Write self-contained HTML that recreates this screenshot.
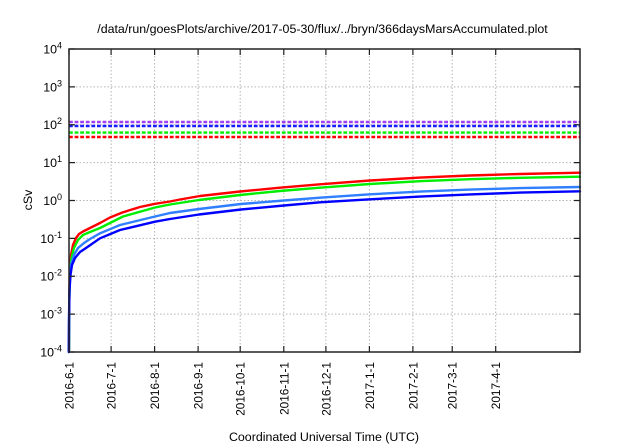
<!DOCTYPE html>
<html><head><meta charset="utf-8"><style>
html,body{margin:0;padding:0;background:#fff;}
svg{display:block;}
text{font-family:"Liberation Sans",Arial,sans-serif;fill:#000;}
</style></head><body>
<svg width="640" height="448" viewBox="0 0 640 448" xmlns="http://www.w3.org/2000/svg">
<rect width="640" height="448" fill="#fff"/>
<!-- title -->
<text x="322.5" y="33" font-size="12.4" text-anchor="middle">/data/run/goesPlots/archive/2017-05-30/flux/../bryn/366daysMarsAccumulated.plot</text>
<!-- grid -->
<g stroke="#b4b4b4" stroke-width="1" stroke-dasharray="1.5,2" fill="none">
<line x1="69" y1="86.9" x2="580" y2="86.9"/>
<line x1="69" y1="124.75" x2="580" y2="124.75"/>
<line x1="69" y1="162.6" x2="580" y2="162.6"/>
<line x1="69" y1="200.5" x2="580" y2="200.5"/>
<line x1="69" y1="238.4" x2="580" y2="238.4"/>
<line x1="69" y1="276.25" x2="580" y2="276.25"/>
<line x1="69" y1="314.1" x2="580" y2="314.1"/>
<line x1="111.1" y1="49" x2="111.1" y2="352"/>
<line x1="154.6" y1="49" x2="154.6" y2="352"/>
<line x1="198.1" y1="49" x2="198.1" y2="352"/>
<line x1="240.2" y1="49" x2="240.2" y2="352"/>
<line x1="283.8" y1="49" x2="283.8" y2="352"/>
<line x1="325.9" y1="49" x2="325.9" y2="352"/>
<line x1="369.4" y1="49" x2="369.4" y2="352"/>
<line x1="412.9" y1="49" x2="412.9" y2="352"/>
<line x1="452.2" y1="49" x2="452.2" y2="352"/>
<line x1="495.7" y1="49" x2="495.7" y2="352"/>
</g>
<!-- dashed horizontal limits -->
<g stroke-width="2.4" stroke-dasharray="3.8,1.8" fill="none">
<line x1="69" y1="122" x2="580" y2="122" stroke="#a040f0"/>
<line x1="69" y1="126" x2="580" y2="126" stroke="#1a1aff"/>
<line x1="69" y1="132.6" x2="580" y2="132.6" stroke="#00ee00"/>
<line x1="69" y1="137" x2="580" y2="137" stroke="#ff0000"/>
</g>
<!-- curves -->
<g fill="none" stroke-width="2.4" stroke-linejoin="round" stroke-linecap="round">
<polyline stroke="#ff0000" points="69,352 69.3,300 69.8,270 71,255 73,245 76,238 79,234 83,231.5 90,228 100,223 110,217.5 123,212.3 140,207 155,203.8 170,201.5 180,199.5 200,196 240,191.5 280,187.7 320,184.3 370,180.5 420,177.6 470,175.5 520,174 580,172.7"/>
<polyline stroke="#00ee00" points="69,352 69.3,300 70,272 71.5,258 74,248 78,240 83,235 90,232 100,228 123,216.5 155,207.5 170,204.5 199,200 240,195 280,191 320,187.7 370,184 420,181.2 470,179.2 520,177.8 580,176.7"/>
<polyline stroke="#2f7fff" points="69,352 69.2,300 69.8,275 71,265 74,255 78,248 84,243 90,239 100,233.3 120,225 155,216.5 170,213 199,209 241,204 284,200.5 320,197.7 370,194.3 420,191.6 470,189.6 520,188.1 580,187"/>
<polyline stroke="#0000ff" points="68.8,352 69,320 69.5,290 70.5,275 72,265 75,258 80,252 86,248 100,238.3 120,230 155,221.7 170,219 199,214.5 241,209.5 284,205.5 320,202.3 370,199.3 420,196.6 470,194.4 520,192.6 580,191.3"/>
</g>
<!-- ticks -->
<g stroke="#222" stroke-width="1.2" fill="none">
<path d="M69,49h6M69,86.9h6M69,124.75h6M69,162.6h6M69,200.5h6M69,238.4h6M69,276.25h6M69,314.1h6M69,352h6"/>
<path d="M580,49h-6M580,86.9h-6M580,124.75h-6M580,162.6h-6M580,200.5h-6M580,238.4h-6M580,276.25h-6M580,314.1h-6M580,352h-6"/>
<path d="M69,352v-6M111.1,352v-6M154.6,352v-6M198.1,352v-6M240.2,352v-6M283.8,352v-6M325.9,352v-6M369.4,352v-6M412.9,352v-6M452.2,352v-6M495.7,352v-6"/>
<path d="M69,49v6M111.1,49v6M154.6,49v6M198.1,49v6M240.2,49v6M283.8,49v6M325.9,49v6M369.4,49v6M412.9,49v6M452.2,49v6M495.7,49v6"/>
</g>
<!-- frame -->
<rect x="69" y="49" width="511" height="303" fill="none" stroke="#222" stroke-width="1.5"/>
<!-- y tick labels -->
<g font-size="12.4" text-anchor="end">
<text x="62" y="53.5">10<tspan font-size="9" dy="-5">4</tspan></text>
<text x="62" y="91.4">10<tspan font-size="9" dy="-5">3</tspan></text>
<text x="62" y="129.2">10<tspan font-size="9" dy="-5">2</tspan></text>
<text x="62" y="167.1">10<tspan font-size="9" dy="-5">1</tspan></text>
<text x="62" y="205">10<tspan font-size="9" dy="-5">0</tspan></text>
<text x="62" y="242.9">10<tspan font-size="9" dy="-5">-1</tspan></text>
<text x="62" y="280.7">10<tspan font-size="9" dy="-5">-2</tspan></text>
<text x="62" y="318.6">10<tspan font-size="9" dy="-5">-3</tspan></text>
<text x="62" y="356.5">10<tspan font-size="9" dy="-5">-4</tspan></text>
</g>
<text transform="translate(32,200) rotate(-90)" font-size="12.4" text-anchor="middle">cSv</text>
<!-- x tick labels -->
<g font-size="11.8" text-anchor="end">
<text transform="translate(73.5,362) rotate(-90)">2016-6-1</text>
<text transform="translate(115.6,362) rotate(-90)">2016-7-1</text>
<text transform="translate(159.1,362) rotate(-90)">2016-8-1</text>
<text transform="translate(202.6,362) rotate(-90)">2016-9-1</text>
<text transform="translate(244.7,362) rotate(-90)">2016-10-1</text>
<text transform="translate(288.3,362) rotate(-90)">2016-11-1</text>
<text transform="translate(330.4,362) rotate(-90)">2016-12-1</text>
<text transform="translate(373.9,362) rotate(-90)">2017-1-1</text>
<text transform="translate(417.4,362) rotate(-90)">2017-2-1</text>
<text transform="translate(456.7,362) rotate(-90)">2017-3-1</text>
<text transform="translate(500.2,362) rotate(-90)">2017-4-1</text>
</g>
<text x="324" y="441" font-size="12.4" text-anchor="middle">Coordinated Universal Time (UTC)</text>
</svg>
</body></html>
